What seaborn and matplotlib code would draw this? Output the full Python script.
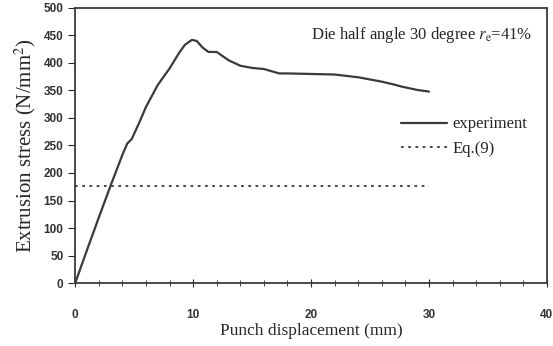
import numpy as np
import pandas as pd
import matplotlib.pyplot as plt
import seaborn as sns

# experiment curve (mm, N/mm^2)
disp = [0, 1, 2, 3, 4, 4.4, 4.8, 5.5, 6, 7, 8, 8.8, 9.3, 9.9, 10.3, 10.8, 11.3,
        12, 13, 14, 15, 16, 17.3, 18, 20, 22, 24, 25, 26, 27, 27.7, 29, 30]
stress = [0, 60, 119, 177, 233, 253, 262, 295, 320, 360, 390, 418, 433, 442, 440,
          428, 420, 420, 405, 395, 391, 389, 381, 381, 380, 379, 374, 370, 366,
          361, 357, 351, 348]

# Eq.(9) prediction
eq_x = [0, 30]
eq_y = [177, 177]

df = pd.DataFrame({"disp": disp, "stress": stress})
eq = pd.DataFrame({"disp": eq_x, "stress": eq_y})

sns.set_style("ticks")
plt.rcParams["font.family"] = ["Liberation Serif", "DejaVu Serif"]
plt.rcParams["mathtext.fontset"] = "stix"

fig = plt.figure(figsize=(5.53, 3.46), dpi=100)
ax = fig.add_axes([0.136, 0.182, 0.853, 0.795])

sns.lineplot(data=df, x="disp", y="stress", ax=ax, color="#3a3a3a", lw=1.6,
             label="experiment")
sns.lineplot(data=eq, x="disp", y="stress", ax=ax, color="#3a3a3a", lw=1.3,
             ls=(0, (1.5, 2.5)), label="Eq.(9)")

ax.set_xlim(0, 40)
ax.set_ylim(0, 500)
ax.set_xticks([0, 10, 20, 30, 40])
ax.set_xticks(np.arange(0, 40, 2), minor=True)
ax.set_yticks(np.arange(0, 501, 50))

for s in ax.spines.values():
    s.set_linewidth(1.3)
    s.set_color("#3a3a3a")

ax.tick_params(axis="x", which="major", direction="inout", length=6, pad=16,
               labelsize=8.5)
ax.tick_params(axis="x", which="minor", direction="inout", length=4)
ax.tick_params(axis="y", direction="out", length=5, labelsize=8.5)
for lab in ax.get_xticklabels() + ax.get_yticklabels():
    lab.set_family("Liberation Sans")
    lab.set_fontweight("bold")
    lab.set_color("#333333")

ax.set_xlabel("Punch displacement (mm)", fontsize=12.5, labelpad=1)
ax.set_ylabel("Extrusion stress (N/mm$^2$)", fontsize=15, labelpad=4)

ax.text(0.97, 0.9, "Die half angle 30 degree $r_{\\mathrm{e}}$=41%",
        transform=ax.transAxes, ha="right", va="center", fontsize=12)

ax.legend(loc="upper right", bbox_to_anchor=(0.99, 0.66), frameon=False,
          fontsize=12, handlelength=2.8, handletextpad=0.3, labelspacing=0.5)

plt.savefig("out.png", dpi=100)
